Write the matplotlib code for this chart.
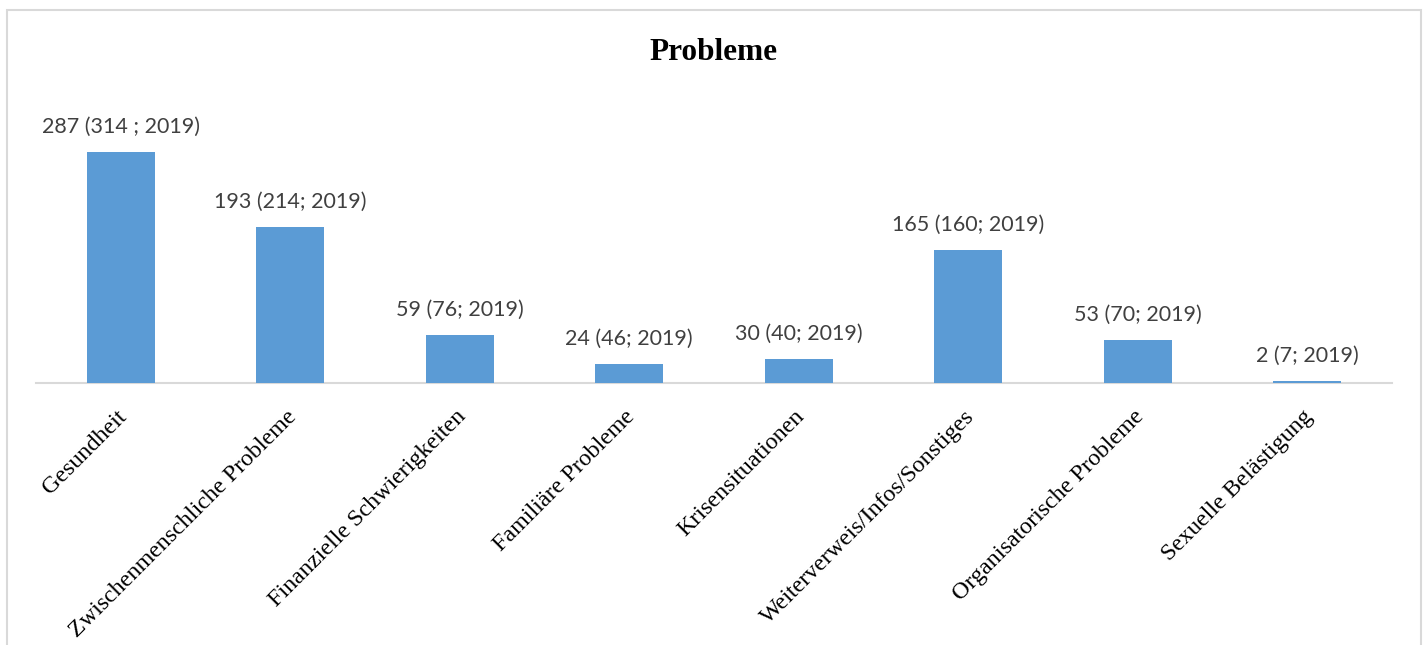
import matplotlib.pyplot as plt
from matplotlib.patches import Rectangle

# ── Data ────────────────────────────────────────────────────────────
categories = ['Gesundheit', 'Zwischenmenschliche Probleme', 'Finanzielle Schwierigkeiten',
              'Familiäre Probleme', 'Krisensituationen', 'Weiterverweis/Infos/Sonstiges',
              'Organisatorische Probleme', 'Sexuelle Belästigung']
values_2020 = [287, 193, 59, 24, 30, 165, 53, 2]
values_2019 = [314, 214, 76, 46, 40, 160, 70, 7]
bar_labels = ['287 (314 ; 2019)', '193 (214; 2019)', '59 (76; 2019)', '24 (46; 2019)',
              '30 (40; 2019)', '165 (160; 2019)', '53 (70; 2019)', '2 (7; 2019)']

W, H = 1425, 645
fig = plt.figure(figsize=(W / 100, H / 100), dpi=100)

# chart frame (bottom edge runs off the image)
fig.patches.append(Rectangle((7 / W, -0.1), (1421 - 7) / W, 1.1 - 10 / H,
                             transform=fig.transFigure, fill=False,
                             edgecolor='#D9D9D9', linewidth=1.5))

ax = fig.add_axes((36 / W, (H - 383) / H, (1392 - 36) / W, 282 / H))
x = range(len(categories))
ax.bar(x, values_2020, width=0.4, color='#5B9BD5', zorder=3)
ax.set_xlim(-0.5, len(categories) - 0.5)
ax.set_ylim(0, 350)

for xi, v, lab in zip(x, values_2020, bar_labels):
    ax.annotate(lab, (xi, v), xytext=(0, 11), textcoords='offset points',
                ha='center', va='bottom', fontsize=15.5, family='Lato',
                color='#404040')

ax.set_xticks(list(x))
ax.set_xticklabels([])
for xi, cat in zip(x, categories):
    ax.annotate(cat, (xi, 0), xytext=(2, -22), textcoords='offset points',
                ha='right', va='center', rotation=45, rotation_mode='anchor',
                fontsize=17.3, family='Liberation Serif', color='black')

ax.tick_params(length=0)
ax.set_yticks([])
for side in ('top', 'right', 'left'):
    ax.spines[side].set_visible(False)
ax.spines['bottom'].set_color('#D9D9D9')
ax.spines['bottom'].set_linewidth(1.5)
ax.spines['bottom'].set_zorder(1)

fig.text(713 / W, 1 - 52 / H, 'Probleme', ha='center', va='center',
         fontsize=22.5, fontweight='bold', family='Liberation Serif')

fig.savefig('out.png', dpi=100)
